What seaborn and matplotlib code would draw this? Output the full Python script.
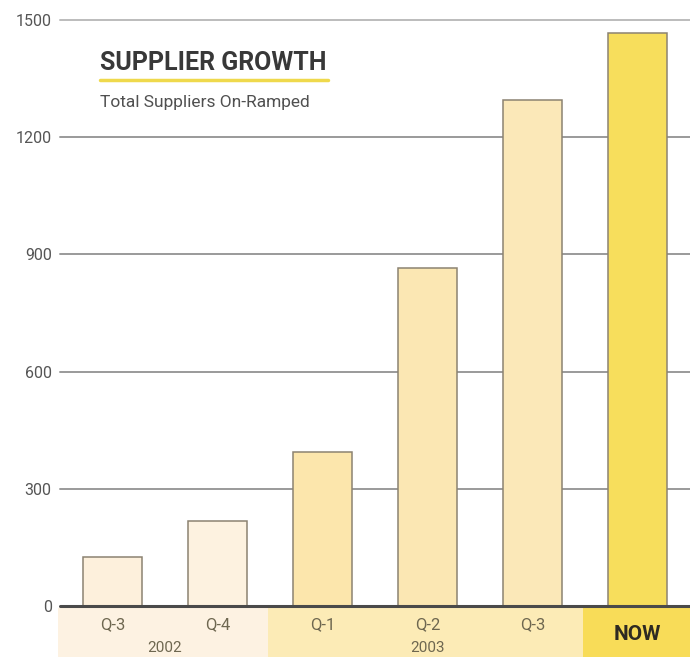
import matplotlib
matplotlib.use("Agg")
import matplotlib.pyplot as plt
from matplotlib.patches import Rectangle
import seaborn as sns
import pandas as pd

# Data
periods = ["2002 Q-3", "2002 Q-4", "2003 Q-1", "2003 Q-2", "2003 Q-3", "NOW"]
quarter_labels = ["Q-3", "Q-4", "Q-1", "Q-2", "Q-3", "NOW"]
suppliers = [125, 218, 394, 865, 1295, 1467]
bar_colors = ["#fdf0dc", "#fdf2e0", "#fce6ac", "#fbe7b3", "#fbe8b8", "#f7de5c"]
y_ticks = [0, 300, 600, 900, 1200, 1500]
years = ["2002", "2003"]

sns.set_theme(style="white")
plt.rcParams["font.family"] = ["Roboto", "DejaVu Sans"]

fig = plt.figure(figsize=(6.9, 6.57), dpi=100)
W, H = 690, 657
ax = fig.add_axes([60 / W, (H - 606) / H, 630 / W, 586 / H])

df = pd.DataFrame({"period": periods, "suppliers": suppliers})
sns.barplot(data=df, x="period", y="suppliers", hue="period", palette=bar_colors,
            legend=False, width=0.56, edgecolor="#8c8371", linewidth=1.1,
            saturation=1, ax=ax, zorder=3)

ax.set_xlim(-0.5, 5.5)
ax.set_ylim(0, 1500)
ax.set_yticks(y_ticks)
ax.set_yticklabels([str(t) for t in y_ticks], color="#555555", fontsize=11.5)
ax.tick_params(axis="y", length=0, pad=6)
ax.tick_params(axis="x", length=0)
for t in y_ticks[1:]:
    ax.axhline(t, color="#9a9a9a" if t < 1500 else "#bcbcbc", lw=1.4,
               zorder=1, clip_on=False)
ax.axhline(0, color="#4a4a4a", lw=2.2, zorder=4, clip_on=False)
for s in ax.spines.values():
    s.set_visible(False)
ax.set_xlabel("")
ax.set_ylabel("")

# Period bands underneath the axis
trans = ax.get_xaxis_transform()
bands = [(-0.52, 1.48, "#fdf2e2"), (1.48, 4.48, "#fcebb6"), (4.48, 5.5, "#f8dc58")]
for x0, x1, c in bands:
    ax.add_patch(Rectangle((x0, -0.088), x1 - x0, 0.085, transform=trans,
                           facecolor=c, edgecolor="none", clip_on=False, zorder=0))

ax.set_xticks(range(len(periods)))
ax.set_xticklabels(quarter_labels)
for i, lab in enumerate(ax.get_xticklabels()):
    if quarter_labels[i] == "NOW":
        lab.set_fontweight("bold")
        lab.set_color("#2e2a22")
        lab.set_fontsize(15)
        lab.set_y(-0.014)
    else:
        lab.set_color("#6e6750")
        lab.set_fontsize(12)
ax.tick_params(axis="x", pad=8)

ax.text(0.5, -0.072, years[0], transform=trans, ha="center", va="center",
        fontsize=11, color="#6e6750")
ax.text(3.0, -0.072, years[1], transform=trans, ha="center", va="center",
        fontsize=11, color="#6e6750")

# Title block
fig.text(100 / W, 1 - 63 / H, "SUPPLIER GROWTH", fontsize=18, fontweight="bold",
         color="#383838", ha="left", va="center")
fig.add_artist(plt.Line2D([100 / W, 328 / W], [1 - 80 / H, 1 - 80 / H],
                          color="#efd94c", lw=2.5))
fig.text(100 / W, 1 - 103 / H, "Total Suppliers On-Ramped", fontsize=12.5,
         color="#505050", ha="left", va="center")

fig.savefig("out.png", dpi=100)
